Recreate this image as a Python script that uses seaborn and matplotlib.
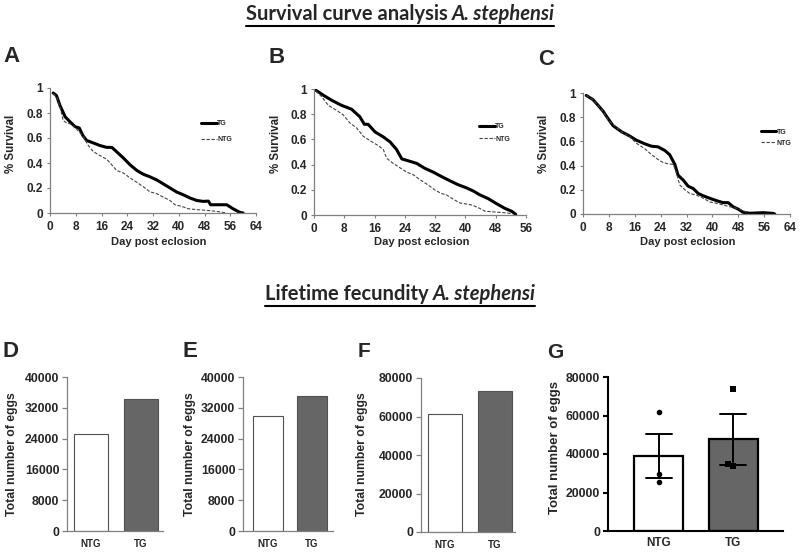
"""
Survival curves (A-C) and lifetime fecundity (D-G) for A. stephensi, TG vs NTG.
"""
import matplotlib
matplotlib.use('Agg')
import matplotlib.pyplot as plt
from matplotlib.lines import Line2D
import numpy as np
import pandas as pd
import seaborn as sns

# ------------------------------------------------------------
# Data
# ------------------------------------------------------------
GROUPS = ['NTG', 'TG']

A_TG_DAY = [1, 2, 3.1, 4.7, 6.2, 7.8, 9.1, 10.2, 11.4, 13.5, 15.5, 17.6, 19.2, 20.7, 22.8, 24.9,
            27, 29, 31, 33.1, 35.2, 37.3, 39.4, 41.4, 43.5, 45.6, 47.6, 49.2, 49.9, 54.9, 57, 59, 60]
A_TG_SURV = [0.96, 0.94, 0.86, 0.77, 0.73, 0.69, 0.68, 0.62, 0.58, 0.56, 0.54, 0.525, 0.525, 0.49,
             0.44, 0.385, 0.34, 0.31, 0.29, 0.265, 0.233, 0.2, 0.167, 0.146, 0.12, 0.1, 0.093, 0.095,
             0.066, 0.066, 0.032, 0.005, 0]
A_NTG_DAY = [1, 2, 3.1, 4.1, 5.2, 6.7, 8.3, 10.4, 11.9, 13.5, 15.5, 17.6, 19.2, 20.7, 22.8, 24.9,
             27, 29, 31, 33.1, 35.2, 37.3, 38.8, 40.9, 43, 45.6, 48.7, 51.8, 54.9]
A_NTG_SURV = [0.955, 0.93, 0.85, 0.74, 0.72, 0.71, 0.67, 0.61, 0.54, 0.49, 0.46, 0.43, 0.385, 0.34,
              0.32, 0.28, 0.245, 0.21, 0.17, 0.155, 0.127, 0.1, 0.066, 0.053, 0.034, 0.027, 0.021,
              0.013, 0]

B_TG_DAY = [0.5, 2.5, 4.7, 7.3, 9.9, 12.1, 13.3, 14.3, 16.1, 18.3, 20.1, 21.8, 23.2, 24.9, 27.1,
            29.3, 31.5, 33.7, 36, 38.1, 40.3, 42.1, 43.8, 46, 48.2, 50.4, 52.2, 53.3]
B_TG_SURV = [0.99, 0.95, 0.91, 0.87, 0.84, 0.78, 0.72, 0.72, 0.66, 0.62, 0.58, 0.52, 0.445, 0.43,
             0.41, 0.37, 0.34, 0.305, 0.27, 0.24, 0.215, 0.19, 0.16, 0.13, 0.09, 0.053, 0.03, 0.005]
B_NTG_DAY = [0.5, 2, 3.8, 6, 7.7, 9.5, 11.3, 13, 14.8, 17, 18.3, 19.2, 20.9, 22.7, 24.5, 26.2, 28,
             30.2, 32, 33.7, 35, 36.8, 38.6, 40.3, 41.6, 43.4, 45.2, 47.8, 50.4, 52.6]
B_NTG_SURV = [0.985, 0.94, 0.87, 0.83, 0.795, 0.73, 0.69, 0.625, 0.59, 0.55, 0.52, 0.45, 0.41,
              0.375, 0.34, 0.32, 0.28, 0.237, 0.197, 0.17, 0.16, 0.125, 0.095, 0.087, 0.08, 0.058,
              0.03, 0.024, 0.018, 0.01]

C_TG_DAY = [1, 3.1, 4.6, 6.2, 7.7, 9.3, 11.9, 14.4, 16.5, 19.1, 21.2, 23.2, 25.3, 26.8, 28.4, 29.4,
            31, 32.5, 34.1, 35.6, 37.2, 39.7, 41.3, 43.3, 44.9, 46.4, 48, 49.5, 51.6, 55.7, 58.8, 59.3]
C_TG_SURV = [0.98, 0.945, 0.9, 0.85, 0.79, 0.73, 0.68, 0.645, 0.61, 0.58, 0.56, 0.555, 0.525, 0.49,
             0.41, 0.32, 0.28, 0.23, 0.21, 0.17, 0.15, 0.125, 0.11, 0.094, 0.094, 0.06, 0.04, 0.014,
             0.006, 0.011, 0.005, 0]
C_NTG_DAY = [1, 3.1, 4.6, 6.2, 7.7, 9.3, 11.9, 14.4, 16.5, 19.1, 21.2, 23.2, 24.8, 26.3, 27.9, 28.9,
             29.9, 31.5, 33, 35.1, 37.2, 39.2, 41.3, 43.3, 45.4, 47.5, 49.5, 51.1]
C_NTG_SURV = [0.98, 0.945, 0.9, 0.85, 0.78, 0.74, 0.68, 0.64, 0.585, 0.54, 0.49, 0.45, 0.425, 0.415,
              0.41, 0.34, 0.24, 0.2, 0.17, 0.155, 0.13, 0.1, 0.088, 0.075, 0.06, 0.047, 0.028, 0.006]

D_EGGS = [25300, 34200]
E_EGGS = [29800, 35000]
F_EGGS = [61400, 73400]
G_NTG_EGGS = [61600, 29800, 25300]
G_TG_EGGS = [73600, 34000, 35000]

SURV_TICKS = [0, 0.2, 0.4, 0.6, 0.8, 1]
SURV_TICKLABELS = ['0', '0.2', '0.4', '0.6', '0.8', '1']

# ------------------------------------------------------------
# Style
# ------------------------------------------------------------
W, H = 800, 552
BAR_COLORS = ['white', '#666666']
AXIS_GREY = '#808080'

sns.set_theme(style='white')
plt.rcParams['font.family'] = ['Liberation Sans', 'DejaVu Sans']
plt.rcParams['font.weight'] = 'bold'

fig = plt.figure(figsize=(W / 100, H / 100), dpi=100)
fig.patch.set_facecolor('white')


def px_rect(x0, x1, y0, y1):
    """Axes rect from pixel edges (origin top-left)."""
    return [x0 / W, 1 - y1 / H, (x1 - x0) / W, (y1 - y0) / H]


def fig_text(x, y, s, **kw):
    return fig.text(x / W, 1 - y / H, s, **kw)


def underlined_title(y_base, parts, size):
    """Bold title in two parts (plain + italic species), centred and underlined."""
    renderer = fig.canvas.get_renderer()
    texts = []
    for s, style in parts:
        t = fig.text(0, 1 - y_base / H, s, fontsize=size, fontweight='bold', style=style,
                     family=['Lato', 'DejaVu Sans'], va='baseline', ha='left')
        texts.append(t)
    widths = [t.get_window_extent(renderer).width for t in texts]
    gap = size * 0.3
    total = sum(widths) + gap * (len(texts) - 1)
    x = W / 2 - total / 2
    for t, w in zip(texts, widths):
        t.set_x(x / W)
        x += w + gap
    x0 = W / 2 - total / 2
    y_line = 1 - (y_base + 6) / H
    fig.add_artist(Line2D([x0 / W, (x0 + total) / W], [y_line, y_line],
                          transform=fig.transFigure, color='black', linewidth=1.5))


def panel_survival(rect, tg_day, tg_surv, ntg_day, ntg_surv, xmax, leg_anchor, leg_space):
    ax = fig.add_axes(rect)
    sns.lineplot(x=tg_day, y=tg_surv, ax=ax, color='black', linewidth=2.2,
                 estimator=None, sort=False, label='TG')
    sns.lineplot(x=ntg_day, y=ntg_surv, ax=ax, color='#444444', linewidth=0.8,
                 linestyle=(0, (3, 1.5)), estimator=None, sort=False, label='NTG')
    ax.set_xlim(0, xmax)
    ax.set_ylim(0, 1)
    ax.set_xticks(np.arange(0, xmax + 1, 8))
    ax.set_yticks(SURV_TICKS)
    ax.set_yticklabels(SURV_TICKLABELS)
    for side in ['top', 'right']:
        ax.spines[side].set_visible(False)
    for side in ['left', 'bottom']:
        ax.spines[side].set_color(AXIS_GREY)
        ax.spines[side].set_linewidth(0.9)
    ax.tick_params(axis='both', direction='out', length=2.5, width=0.8, color=AXIS_GREY,
                   labelsize=8.5, pad=2.5, left=True, bottom=True)
    ax.tick_params(axis='x', pad=3.5)
    ax.set_xlabel('')
    ax.set_ylabel('')
    ax.legend(loc='center left', bbox_to_anchor=leg_anchor, frameon=False,
              prop={'size': 5, 'weight': 'bold'}, handlelength=2.2, handletextpad=0.1,
              labelspacing=leg_space, borderpad=0, borderaxespad=0)
    return ax


def style_bar_axes(ax, color, lw, tick_size, x_size):
    for side in ['top', 'right']:
        ax.spines[side].set_visible(False)
    for side in ['left', 'bottom']:
        ax.spines[side].set_color(color)
        ax.spines[side].set_linewidth(lw)
    ax.tick_params(axis='y', direction='out', length=3.5, width=lw, color=color,
                   labelsize=tick_size, pad=2, left=True)
    ax.tick_params(axis='x', length=0, labelsize=x_size, pad=6)
    ax.set_xlabel('')
    ax.set_ylabel('')


def panel_bar(rect, values, ymax, xlim):
    ax = fig.add_axes(rect)
    sns.barplot(x=GROUPS, y=values, hue=GROUPS, palette=BAR_COLORS, order=GROUPS,
                edgecolor='#505050', linewidth=0.8, width=0.69, legend=False, ax=ax)
    ax.set_ylim(0, ymax)
    ax.set_yticks(np.linspace(0, ymax, 6) if ymax == 40000 else np.linspace(0, ymax, 5))
    ax.set_xlim(*xlim)
    style_bar_axes(ax, AXIS_GREY, 0.9, 8.8, 7)
    return ax


# ------------------------------------------------------------
# Titles
# ------------------------------------------------------------
underlined_title(20, [('Survival curve analysis', 'normal'), ('A. stephensi', 'italic')], 14.5)
underlined_title(300, [('Lifetime fecundity', 'normal'), ('A. stephensi', 'italic')], 14.5)

# ------------------------------------------------------------
# Survival panels
# ------------------------------------------------------------
panel_survival(px_rect(50, 256, 88, 213), A_TG_DAY, A_TG_SURV, A_NTG_DAY, A_NTG_SURV, 64,
               (0.735, 0.65), 1.3)
panel_survival(px_rect(314, 526, 89, 215), B_TG_DAY, B_TG_SURV, B_NTG_DAY, B_NTG_SURV, 56,
               (0.78, 0.65), 0.8)
panel_survival(px_rect(583, 790, 93, 214), C_TG_DAY, C_TG_SURV, C_NTG_DAY, C_NTG_SURV, 64,
               (0.86, 0.63), 0.6)

for cx in [159, 422, 688]:
    fig_text(cx, 242, 'Day post eclosion', fontsize=8, fontweight='bold', ha='center', va='center')
for cx in [11, 276, 544]:
    fig_text(cx, 144, '% Survival', fontsize=8.3, fontweight='bold', rotation=90,
             ha='center', va='center')

# ------------------------------------------------------------
# Fecundity panels
# ------------------------------------------------------------
panel_bar(px_rect(67, 163, 377, 531), D_EGGS, 40000, (-0.485, 1.45))
panel_bar(px_rect(243, 333, 377, 531), E_EGGS, 40000, (-0.575, 1.49))
panel_bar(px_rect(421, 515, 378, 532), F_EGGS, 80000, (-0.485, 1.41))

# G: mean +/- SEM with the individual replicates
df_g = pd.DataFrame({
    'group': ['NTG'] * len(G_NTG_EGGS) + ['TG'] * len(G_TG_EGGS),
    'eggs': G_NTG_EGGS + G_TG_EGGS,
})
ax_g = fig.add_axes(px_rect(608, 783, 377, 531))
sns.barplot(data=df_g, x='group', y='eggs', hue='group', order=GROUPS, hue_order=GROUPS,
            palette=BAR_COLORS, errorbar='se', capsize=0.35, width=0.66,
            edgecolor='black', linewidth=1.6, legend=False, ax=ax_g,
            err_kws={'color': 'black', 'linewidth': 1.4})
sns.swarmplot(x=['NTG'] * len(G_NTG_EGGS), y=G_NTG_EGGS, order=GROUPS, color='black',
              marker='o', size=4, ax=ax_g)
sns.swarmplot(x=['TG'] * len(G_TG_EGGS), y=G_TG_EGGS, order=GROUPS, color='black',
              marker='s', size=4, ax=ax_g)
ax_g.set_ylim(0, 80000)
ax_g.set_yticks([0, 20000, 40000, 60000, 80000])
ax_g.set_xlim(-0.68, 1.67)
style_bar_axes(ax_g, 'black', 1.5, 8.8, 8.5)
ax_g.tick_params(axis='x', pad=4)

for cx in [12, 190, 362]:
    fig_text(cx, 454, 'Total number of eggs', fontsize=8.8, fontweight='bold', rotation=90,
             ha='center', va='center')
fig_text(555, 448, 'Total number of eggs', fontsize=9.5, fontweight='bold', rotation=90,
         ha='center', va='center')

# ------------------------------------------------------------
# Panel letters
# ------------------------------------------------------------
for letter, x, y, size in [('A', 3, 62, 16), ('B', 268, 63, 16), ('C', 538, 65, 16),
                           ('D', 3, 357, 16), ('E', 182, 357, 16), ('F', 358, 357, 15),
                           ('G', 547, 358, 15)]:
    fig_text(x, y, letter, fontsize=size, fontweight='bold', ha='left', va='baseline')

fig.savefig('out.png', dpi=100, facecolor='white')
plt.close(fig)
